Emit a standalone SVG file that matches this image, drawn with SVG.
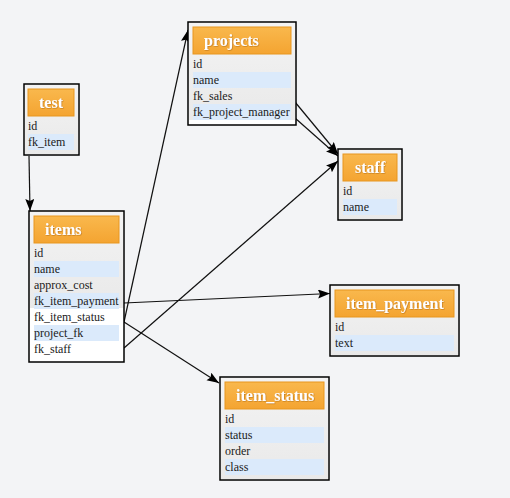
<svg xmlns="http://www.w3.org/2000/svg" width="510" height="498" viewBox="0 0 510 498">
<style>
.box{stroke:#000;stroke-width:1.5}
.hdr{fill:url(#hg);stroke:#e8961f;stroke-width:1}
.ht{font-family:"Liberation Serif",serif;font-weight:bold;font-size:16px;fill:#fff;filter:url(#ts)}
.ft{font-family:"Liberation Serif",serif;font-size:12px;fill:#1a1a1a}
.alt{fill:#dbeafb}
.edge{fill:none;stroke:#111;stroke-width:1.2;marker-end:url(#arr)}
</style>
<defs>
<linearGradient id="hg" x1="0" y1="0" x2="0" y2="1"><stop offset="0" stop-color="#f9b84d"/><stop offset="1" stop-color="#f4a431"/></linearGradient>
<linearGradient id="bg" x1="0" y1="0" x2="0" y2="1"><stop offset="0" stop-color="#f3f3f3"/><stop offset="1" stop-color="#e9e9e9"/></linearGradient>
<filter id="ts" x="-10%" y="-20%" width="130%" height="150%"><feDropShadow dx="0.6" dy="0.6" stdDeviation="0.4" flood-color="#a0600a" flood-opacity="0.7"/></filter>
<marker id="arr" markerUnits="userSpaceOnUse" markerWidth="13" markerHeight="10" refX="12" refY="4.5" orient="auto"><path d="M0,0 L12,4.5 L0,9 L2,4.5 z" fill="#000"/></marker>
</defs>
<rect width="510" height="498" fill="#f3f4f6"/>
<g id="connectors">
<path class="edge" d="M29,156 L30,211"/>
<path class="edge" d="M124,322 L188,30"/>
<path class="edge" d="M124,322 L219,383"/>
<path class="edge" d="M124,303 L330,293.5"/>
<path class="edge" d="M124,348 L338,161"/>
<path class="edge" d="M295,102 L338,154"/>
<path class="edge" d="M295,118 L338,156"/>
</g>
<g id="projects">
<rect class="box" x="188" y="22" width="108" height="103" fill="#fff"/>
<rect x="189" y="23" width="106" height="97" fill="url(#bg)"/>
<rect class="hdr" x="193" y="27" width="98" height="27"/>
<text class="ht" x="204" y="46">projects</text>
<rect class="alt" x="193" y="72" width="98" height="16"/>
<rect class="alt" x="193" y="104" width="98" height="16"/>
<text class="ft" x="193" y="68">id</text>
<text class="ft" x="193" y="84">name</text>
<text class="ft" x="193" y="100">fk_sales</text>
<text class="ft" x="193" y="116">fk_project_manager</text>
</g>
<g id="test">
<rect class="box" x="24" y="84" width="55" height="71" fill="#fff"/>
<rect x="25" y="85" width="53" height="69" fill="url(#bg)"/>
<rect class="hdr" x="28" y="89" width="46" height="27"/>
<text class="ht" x="39" y="108">test</text>
<rect class="alt" x="28" y="134" width="46" height="16"/>
<text class="ft" x="28" y="130">id</text>
<text class="ft" x="28" y="146">fk_item</text>
</g>
<g id="items">
<rect class="box" x="29" y="211" width="95" height="151" fill="#fff"/>
<rect x="30" y="212" width="93" height="96" fill="url(#bg)"/>
<rect class="hdr" x="34" y="216" width="85" height="27"/>
<text class="ht" x="45" y="235">items</text>
<rect class="alt" x="34" y="261" width="85" height="16"/>
<rect class="alt" x="34" y="293" width="85" height="16"/>
<rect class="alt" x="34" y="325" width="85" height="16"/>
<text class="ft" x="34" y="257">id</text>
<text class="ft" x="34" y="273">name</text>
<text class="ft" x="34" y="289">approx_cost</text>
<text class="ft" x="34" y="305">fk_item_payment</text>
<text class="ft" x="34" y="321">fk_item_status</text>
<text class="ft" x="34" y="337">project_fk</text>
<text class="ft" x="34" y="353">fk_staff</text>
</g>
<g id="staff">
<rect class="box" x="338" y="149" width="64" height="71" fill="#fff"/>
<rect x="339" y="150" width="62" height="69" fill="url(#bg)"/>
<rect class="hdr" x="343" y="154" width="54" height="27"/>
<text class="ht" x="355" y="173">staff</text>
<rect class="alt" x="343" y="199" width="54" height="16"/>
<text class="ft" x="343" y="195">id</text>
<text class="ft" x="343" y="211">name</text>
</g>
<g id="item_payment">
<rect class="box" x="330" y="285" width="129" height="71" fill="#fff"/>
<rect x="331" y="286" width="127" height="69" fill="url(#bg)"/>
<rect class="hdr" x="335" y="290" width="119" height="27"/>
<text class="ht" x="346" y="309">item_payment</text>
<rect class="alt" x="335" y="335" width="119" height="16"/>
<text class="ft" x="335" y="331">id</text>
<text class="ft" x="335" y="347">text</text>
</g>
<g id="item_status">
<rect class="box" x="220" y="377" width="109" height="103" fill="#fff"/>
<rect x="221" y="378" width="107" height="101" fill="url(#bg)"/>
<rect class="hdr" x="225" y="382" width="99" height="27"/>
<text class="ht" x="236" y="401">item_status</text>
<rect class="alt" x="225" y="427" width="99" height="16"/>
<rect class="alt" x="225" y="459" width="99" height="16"/>
<text class="ft" x="225" y="423">id</text>
<text class="ft" x="225" y="439">status</text>
<text class="ft" x="225" y="455">order</text>
<text class="ft" x="225" y="471">class</text>
</g>
</svg>
